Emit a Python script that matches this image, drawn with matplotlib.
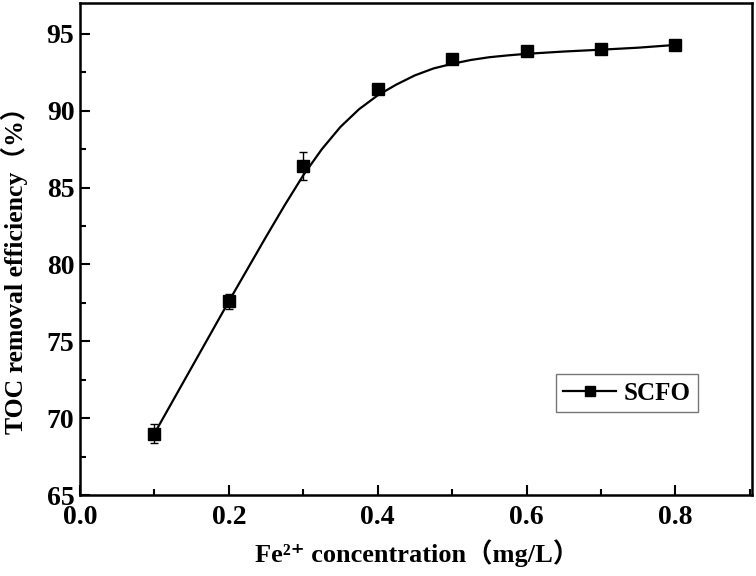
import matplotlib
matplotlib.use("Agg")
import matplotlib.pyplot as plt
from matplotlib.ticker import MultipleLocator

# measured points
fe_conc = [0.1, 0.2, 0.3, 0.4, 0.5, 0.6, 0.7, 0.8]
toc_removal = [69.0, 77.6, 86.4, 91.4, 93.35, 93.9, 94.0, 94.3]
toc_err = [0.6, 0.5, 0.9, 0.2, 0.2, 0.2, 0.2, 0.2]

# fitted curve
fit_x = [0.10, 0.125, 0.15, 0.175, 0.20, 0.225, 0.25, 0.275, 0.30, 0.325,
         0.35, 0.375, 0.40, 0.425, 0.45, 0.475, 0.50, 0.525, 0.55, 0.575,
         0.60, 0.65, 0.70, 0.75, 0.80]
fit_y = [69.0, 71.15, 73.3, 75.45, 77.6, 79.7, 81.8, 83.85, 85.8, 87.5,
         88.95, 90.1, 91.0, 91.7, 92.3, 92.75, 93.05, 93.3, 93.48, 93.6,
         93.7, 93.85, 93.97, 94.1, 94.28]

FONT = ["Liberation Serif", "DejaVu Serif", "Noto Sans CJK SC"]
plt.rcParams["font.family"] = FONT
plt.rcParams["font.weight"] = "bold"

fig = plt.figure(figsize=(7.56, 5.76), dpi=100)
ax = fig.add_axes([0.1058, 0.1406, 0.889, 0.854])

ax.plot(fit_x, fit_y, "k-", lw=1.6)
ax.errorbar(fe_conc, toc_removal, yerr=toc_err, fmt="none", ecolor="k",
            elinewidth=1.0, capsize=3, capthick=1.0)
ax.plot(fe_conc, toc_removal, "ks", ms=9, ls="none")

# legend proxy: line with square marker
h, = ax.plot([], [], "k-s", lw=1.6, ms=7)
leg = ax.legend([h], ["SCFO"], loc="upper left", bbox_to_anchor=(0.708, 0.246),
                borderaxespad=0, fancybox=False, frameon=True,
                handlelength=2.1, borderpad=0.3, handletextpad=0.3,
                prop={"family": FONT, "weight": "bold", "size": 18})
leg.get_frame().set_edgecolor("#555555")
leg.get_frame().set_linewidth(1.0)

ax.set_xlim(0.0, 0.903)
ax.set_ylim(65, 97)
ax.xaxis.set_major_locator(MultipleLocator(0.2))
ax.xaxis.set_minor_locator(MultipleLocator(0.1))
ax.yaxis.set_major_locator(MultipleLocator(5))
ax.yaxis.set_minor_locator(MultipleLocator(2.5))
ax.xaxis.set_major_formatter(plt.FormatStrFormatter("%.1f"))
ax.tick_params(which="both", direction="in", width=1.5, labelsize=20)
ax.tick_params(which="major", length=7)
ax.tick_params(which="minor", length=4)
ax.tick_params(axis="x", pad=7)
ax.tick_params(axis="y", pad=4)
for lab in ax.get_xticklabels() + ax.get_yticklabels():
    lab.set_fontweight("bold")
for sp in ax.spines.values():
    sp.set_linewidth(1.8)

ax.set_xlabel("Fe²⁺ concentration（mg/L）", fontsize=19, fontweight="bold")
ax.set_ylabel("TOC removal efficiency（%）", fontsize=18.5, fontweight="bold")
ax.xaxis.set_label_coords(0.502, -0.09)
ax.yaxis.set_label_coords(-0.077, 0.47)

fig.savefig("out.png", dpi=100)
